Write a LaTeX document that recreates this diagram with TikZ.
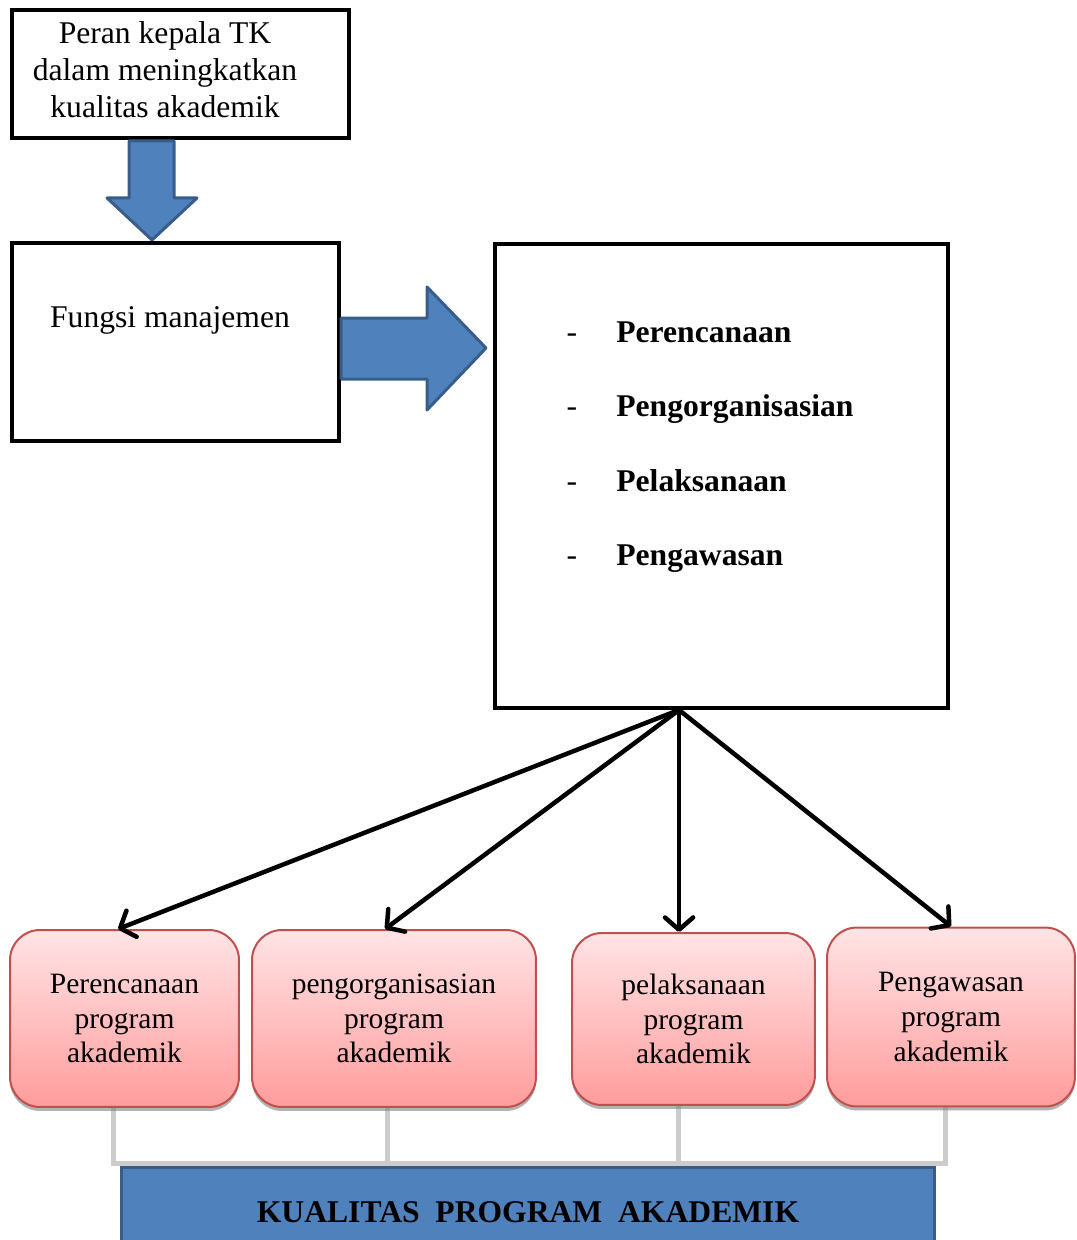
\documentclass[tikz,border=0pt]{standalone}
\usepackage{fontspec}
\setmainfont{Liberation Serif}
\usetikzlibrary{arrows.meta,shadows}

\definecolor{blokbiru}{HTML}{4F81BD}
\definecolor{blokgaris}{HTML}{385D8A}
\definecolor{merah}{HTML}{C0504D}
\definecolor{pinkatas}{HTML}{FFE4E6}
\definecolor{pinkbawah}{HTML}{FF9C9C}

\tikzset{
kotak/.style={draw=black, line width=0.08cm, inner sep=0pt},
panah/.style={fill=blokbiru, draw=blokgaris, line width=0.06cm, line join=round},
program/.style={draw=merah, line width=0.04cm, rounded corners=0.6cm,
  top color=pinkatas, bottom color=pinkbawah, align=center,
  font=\fontsize{16.8}{19.8}\selectfont,
  drop shadow={shadow xshift=0cm, shadow yshift=-0.08cm, fill=gray, opacity=0.6}},
tunjuk/.style={line width=0.09cm, -{Straight Barb[length=7pt,width=16pt,round]}},
garis/.style={draw=gray!40, line width=0.1cm}
}

\begin{document}
\begin{tikzpicture}[x=0.02cm, y=-0.02cm, font=\fontsize{18}{21}\selectfont]
\useasboundingbox (0,0) rectangle (1076,1240);

% kotak atas
\node[kotak, minimum width=6.74cm, minimum height=2.56cm] (peran) at (180.5,74) {};
\node[align=center] (peranText) at (165,70) {Peran kepala TK\\dalam meningkatkan\\kualitas akademik};
\draw[panah] (129,141) -- (174,141) -- (174,198) -- (197,198) -- (152,240)
  -- (107,198) -- (129,198) -- cycle;

% fungsi manajemen
\node[kotak, minimum width=6.54cm, minimum height=3.96cm] (fungsi) at (175.5,342) {};
\node (fungsiText) at (170,320) {Fungsi manajemen};
\draw[panah] (341,318) -- (427,318) -- (427,287) -- (486,348) -- (427,410)
  -- (427,379) -- (341,379) -- cycle;

% daftar fungsi
\node[kotak, minimum width=9.06cm, minimum height=9.28cm] (daftar) at (721.5,476) {};
\foreach \i/\teks in {1/Perencanaan, 2/Pengorganisasian, 3/Pelaksanaan, 4/Pengawasan}{
  \node[anchor=base, inner sep=0pt] (dash\i) at (572,{267.5+74.5*\i}) {-};
  \node[anchor=base west, inner sep=0pt] (item\i) at (616,{267.5+74.5*\i}) {\textbf{\teks}};
}

% garis ke kualitas
\coordinate (k1) at (113,1163);
\coordinate (k2) at (387,1163);
\coordinate (k3) at (678,1163);
\coordinate (k4) at (945,1163);
\draw[garis] (k1 |- 1100,1100) -- (k1) -- (k4) -- (k4 |- 1100,1100);
\draw[garis] (k2 |- 1100,1100) -- (k2);
\draw[garis] (k3 |- 1100,1100) -- (k3);

% program akademik
\node[program, minimum width=4.58cm, minimum height=3.54cm] (prog1) at (124.5,1018.5)
  {Perencanaan\\program\\akademik};
\node[program, minimum width=5.68cm, minimum height=3.54cm] (prog2) at (394,1018.5)
  {pengorganisasian\\program\\akademik};
\node[program, minimum width=4.86cm, minimum height=3.44cm] (prog3) at (693.5,1019)
  {pelaksanaan\\program\\akademik};
\node[program, minimum width=4.96cm, minimum height=3.58cm] (prog4) at (951,1017)
  {Pengawasan\\program\\akademik};

\coordinate (src) at ([xshift=-0.85cm]daftar.south);
\draw[tunjuk] (src) -- ([xshift=-0.13cm]prog1.north);
\draw[tunjuk] (src) -- ([xshift=-0.18cm]prog2.north);
\draw[tunjuk] (src) -- (prog3.north -| src);
\draw[tunjuk] (src) -- (prog4.north);

\node[fill=blokbiru, draw=blokgaris, line width=0.06cm, minimum width=16.28cm,
  minimum height=1.8cm, font=\fontsize{18}{21}\selectfont\bfseries] (kualitas) at (528,1212)
  {KUALITAS\ \ PROGRAM\ \ AKADEMIK};
\end{tikzpicture}
\end{document}
